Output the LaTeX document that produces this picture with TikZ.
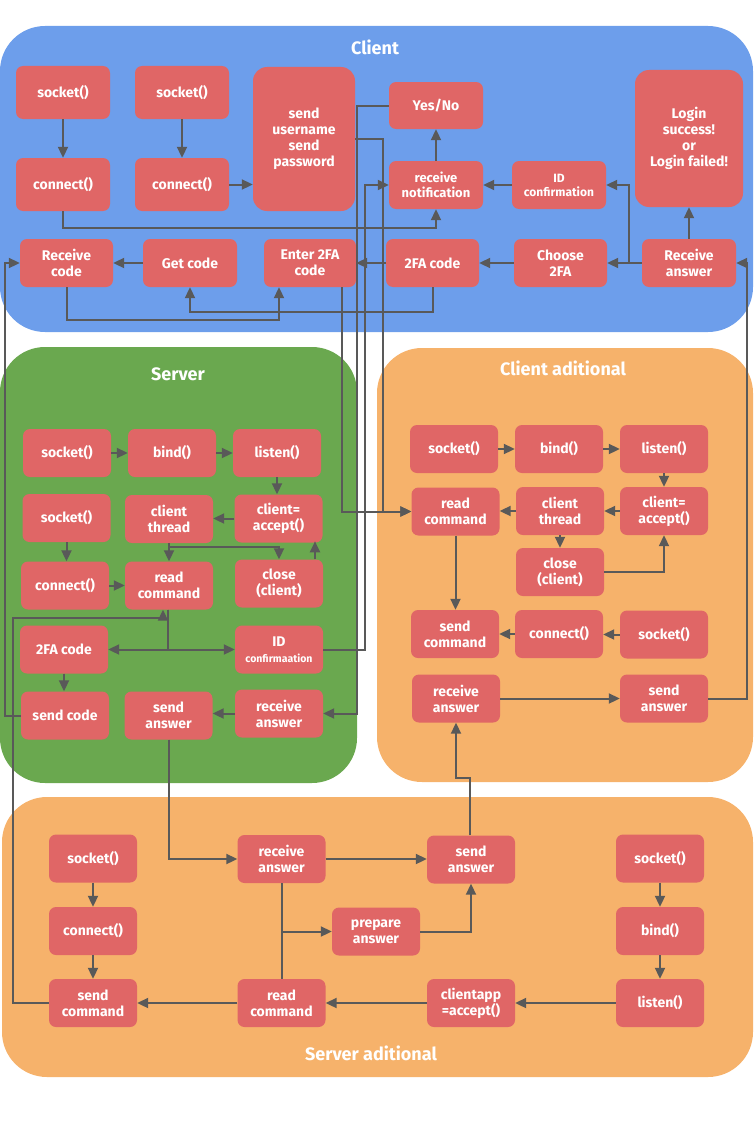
\documentclass[tikz,border=0pt]{standalone}
\usepackage{fontspec}
\setmainfont{Fira Sans}
\usetikzlibrary{arrows.meta}
\definecolor{cblue}{HTML}{6D9EEB}
\definecolor{sgreen}{HTML}{6AA84F}
\definecolor{aorange}{HTML}{F6B26B}
\definecolor{boxred}{HTML}{E06666}
\definecolor{agray}{HTML}{595959}
\begin{document}
\begin{tikzpicture}[x=1pt,y=-1pt,
  box/.style={fill=boxred, rounded corners=7pt, text=white, font=\bfseries\fontsize{14}{16}\selectfont, align=center, inner sep=0pt, minimum width=88pt, minimum height=48pt},
  bigbox/.style={box, rounded corners=14pt},
  arr/.style={draw=agray, line width=2pt, -{Triangle[length=11pt,width=10pt]}},
  ln/.style={draw=agray, line width=2pt},
  title/.style={text=white, font=\bfseries\fontsize{18}{21}\selectfont},
  smalltxt/.style={font=\bfseries\fontsize{13}{15}\selectfont},
  tinytxt/.style={font=\bfseries\fontsize{12}{14}\selectfont}
]
\useasboundingbox (0,0) rectangle (755,1132);
% region backgrounds
\fill[cblue, rounded corners=45pt] (0,26) rectangle (753,332);
\fill[sgreen, rounded corners=45pt] (0,347) rectangle (357,783);
\fill[aorange, rounded corners=45pt] (377,348) rectangle (753,782);
\fill[aorange, rounded corners=45pt] (2,797) rectangle (753,1077);
\node[title] (tclient) at (375,47) {Client};
\node[title] (tserver) at (178,374) {Server};
\node[title] (tcadd) at (563,368) {Client aditional};
\node[title] (tsadd) at (371,1053) {Server aditional};

% Client
\node[box, minimum width=94pt, minimum height=53pt] (cs1) at (63,92.5) {socket()};
\node[box, minimum width=94pt, minimum height=53pt] (cc1) at (63,184.5) {connect()};
\node[box, minimum width=94pt, minimum height=53pt] (cs2) at (182,92.5) {socket()};
\node[box, minimum width=94pt, minimum height=53pt] (cc2) at (182,184.5) {connect()};
\node[bigbox, minimum width=102pt, minimum height=144pt] (send) at (304,139) {send\\username\\send\\password};
\node[box, minimum width=93pt] (rcode) at (66.5,263) {Receive\\code};
\node[box, minimum width=94pt] (getcode) at (190,263) {Get code};
\node[box, minimum width=92pt] (enter) at (310,263) {Enter 2FA\\code};
\node[box, minimum width=94pt, minimum height=47pt] (yesno) at (436,105.5) {Yes/No};
\node[box, smalltxt, minimum width=94pt] (rnotif) at (436,185) {receive\\notification};
\node[box, tinytxt, minimum width=94pt] (idconf) at (559,185) {ID\\confirmation};
\node[bigbox, minimum width=108pt, minimum height=137pt] (login) at (689,138.5) {Login\\success!\\or\\Login failed!};
\node[box, minimum width=93pt] (tfa) at (432.5,263) {2FA code};
\node[box, minimum width=93pt] (choose) at (560.5,263) {Choose\\2FA};
\node[box, minimum width=94pt] (ranswer) at (689,263) {Receive\\answer};

% Server
\node[box] (ss1) at (67,453) {socket()};
\node[box] (sbind) at (172,453) {bind()};
\node[box] (slisten) at (277,453) {listen()};
\node[box] (ss2) at (66.5,518) {socket()};
\node[box] (sthread) at (169,519) {client\\thread};
\node[box] (saccept) at (278.5,518.5) {client=\\accept()};
\node[box] (sconnect) at (65,585.5) {connect()};
\node[box] (sread) at (169,585.5) {read\\command};
\node[box] (sclose) at (279,583.5) {close\\(client)};
\node[box] (s2fa) at (64,649.5) {2FA code};
\node[box] (sid) at (279,649.5) {ID\\{\fontsize{10.5}{12}\selectfont confirmaation}};
\node[box] (ssendcode) at (65,715.5) {send code};
\node[box] (ssendans) at (168.5,715.5) {send\\answer};
\node[box] (srecv) at (279,713.5) {receive\\answer};

% Client aditional
\node[box] (cas1) at (454,449) {socket()};
\node[box] (cabind) at (559,449) {bind()};
\node[box] (calisten) at (664,449) {listen()};
\node[box] (caread) at (455.5,511.5) {read\\command};
\node[box] (cathread) at (560,511) {client\\thread};
\node[box] (caaccept) at (664,511) {client=\\accept()};
\node[box] (caclose) at (560,572) {close\\(client)};
\node[box] (casendcmd) at (455,634) {send\\command};
\node[box] (caconnect) at (559,634) {connect()};
\node[box] (cas2) at (664,634.5) {socket()};
\node[box] (carecv) at (456,698.5) {receive\\answer};
\node[box] (casendans) at (664,698.5) {send\\answer};

% Server aditional
\node[box] (sas1) at (93,858.5) {socket()};
\node[box] (saconnect) at (93,931) {connect()};
\node[box] (sasendcmd) at (93,1003) {send\\command};
\node[box] (sarecv) at (281.5,859) {receive\\answer};
\node[box] (sasendans) at (471,859.5) {send\\answer};
\node[box] (saprep) at (376,931.5) {prepare\\answer};
\node[box] (saread) at (281.5,1003) {read\\command};
\node[box] (saaccept) at (471,1003) {clientapp\\=accept()};
\node[box] (sas2) at (660,858.5) {socket()};
\node[box] (sabind) at (660,931) {bind()};
\node[box] (salisten) at (660,1003) {listen()};

% ---- Client connectors
\draw[arr] (cs1.south) -- (cs1.south |- cc1.north);
\draw[arr] (cs2.south) -- (cs2.south |- cc2.north);
\draw[arr] (cc2.east) -- (cc2.east -| send.west);
\draw[arr] (cc1.south) -- ++(0,17) -| (rnotif.south);
\draw[arr] (rnotif.north) -- (rnotif.north |- yesno.south);
\draw[arr] (idconf.west) -- (idconf.west -| rnotif.east);
\draw[arr] (ranswer.west) -- (ranswer.west -| choose.east);
\draw[arr] (ranswer.west) -- ++(-13,0) |- (idconf.east);
\draw[arr] (ranswer.north) -- (ranswer.north |- login.south);
\draw[arr] (choose.west) -- (choose.west -| tfa.east);
\draw[arr] (tfa.west) -- (tfa.west -| enter.east);
\draw[arr] (getcode.west) -- (getcode.west -| rcode.east);
\draw[arr] (tfa.south) -- ++(0,25) -| (getcode.south);
\draw[arr] (rcode.south) -- ++(0,33) -| ([xshift=-31pt]enter.south);

% ---- cross-region connectors
\draw[arr] ([xshift=32pt]enter.south) |- (caread.west);
\draw[arr] (send.east) -- ++(28,0) |- (caread.west);
\draw[arr] (yesno.west) -- ++(-32,0) |- (srecv.east);
\draw[arr] (sid.east) -- ++(42,0) |- (rnotif.west);
\draw[arr] (ssendcode.west) -- ++(-16,0) |- (rcode.west);
\draw[arr] (casendans.east) -- ++(39,0) |- (ranswer.east);
\draw[arr] (sasendcmd.west) -- ++(-36,0) -- ++(0,-385) -| ([xshift=-6pt]sread.south);
\draw[arr] (ssendans.south) |- (sarecv.west);
\draw[arr] ([xshift=-1pt]sasendans.north) -- ++(0,-57) -| (carecv.south);

% ---- Server connectors
\draw[arr] (ss1.east) -- (ss1.east -| sbind.west);
\draw[arr] (sbind.east) -- (sbind.east -| slisten.west);
\draw[arr] (slisten.south) -- (slisten.south |- saccept.north);
\draw[arr] (saccept.west) -- (saccept.west -| sthread.east);
\draw[arr] (sthread.south) -- (sthread.south |- sread.north);
\draw[arr] (sthread.south) -- ++(0,4) -| (sclose.north);
\draw[arr] ([xshift=36pt]sclose.north) -- ++(0,-18);
\draw[arr] (ss2.south) -- (ss2.south |- sconnect.north);
\draw[arr] (sconnect.east) -- (sconnect.east -| sread.west);
\draw[arr] ([xshift=-1pt]sread.south) |- (s2fa.east);
\draw[arr] ([xshift=-1pt]sread.south) |- (sid.west);
\draw[arr] (s2fa.south) -- (s2fa.south |- ssendcode.north);
\draw[arr] (srecv.west) -- (srecv.west -| ssendans.east);

% ---- Client aditional connectors
\draw[arr] (cas1.east) -- (cas1.east -| cabind.west);
\draw[arr] (cabind.east) -- (cabind.east -| calisten.west);
\draw[arr] (calisten.south) -- (calisten.south |- caaccept.north);
\draw[arr] (caaccept.west) -- (caaccept.west -| cathread.east);
\draw[arr] (cathread.west) -- (cathread.west -| caread.east);
\draw[arr] (cathread.south) -- (cathread.south |- caclose.north);
\draw[arr] (caclose.east) -| (caaccept.south);
\draw[arr] (caread.south) -- (caread.south |- casendcmd.north);
\draw[arr] (caconnect.west) -- (caconnect.west -| casendcmd.east);
\draw[arr] (cas2.west) -- (cas2.west -| caconnect.east);
\draw[arr] (carecv.east) -- (carecv.east -| casendans.west);

% ---- Server aditional connectors
\draw[arr] (sas1.south) -- (sas1.south |- saconnect.north);
\draw[arr] (saconnect.south) -- (saconnect.south |- sasendcmd.north);
\draw[arr] (sarecv.east) -- (sarecv.east -| sasendans.west);
\draw[ln] (saread.north) -- (sarecv.south);
\draw[arr] (saread.north |- saprep.west) -- (saprep.west);
\draw[arr] (saprep.east) -| (sasendans.south);
\draw[arr] (sas2.south) -- (sas2.south |- sabind.north);
\draw[arr] (sabind.south) -- (sabind.south |- salisten.north);
\draw[arr] (salisten.west) -- (salisten.west -| saaccept.east);
\draw[arr] (saaccept.west) -- (saaccept.west -| saread.east);
\draw[arr] (saread.west) -- (saread.west -| sasendcmd.east);
\end{tikzpicture}
\end{document}
